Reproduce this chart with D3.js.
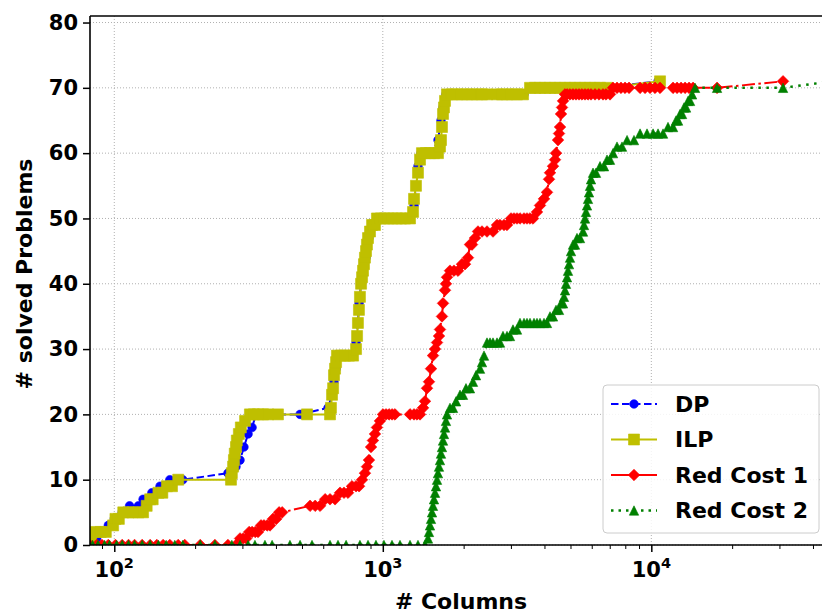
<!DOCTYPE html>
<html>
<head>
<meta charset="utf-8">
<script src="https://cdn.jsdelivr.net/npm/d3@7"></script>
<style>
  body { margin: 0; background: #fff; }
  text { font-family: "DejaVu Sans", sans-serif; font-weight: bold; fill: #000; }
</style>
</head>
<body>
<svg id="chart" width="822" height="615"></svg>
<script>
// Cumulative number of solved problems against the number of generated columns.
const dpColumns = [82, 86, 90, 95, 100, 107, 114, 123, 128, 138, 148, 161, 180, 265, 284, 294, 304, 315, 326, 337, 380, 492, 625, 647, 658, 670, 681, 755, 795, 808, 816, 830, 844, 866, 888, 912, 960, 1110, 1252, 1307, 1329, 1352, 1388, 1525, 1605, 1647, 1676, 1719, 2112, 2732, 3357, 3564, 4571, 6441, 10593];
const dpSolved  = [0, 1, 2, 3, 4, 5, 6, 6, 7, 8, 9, 10, 10, 11, 12, 13, 15, 17, 18, 20, 20, 20, 21, 23, 25, 27, 29, 29, 31, 34, 37, 40, 42, 44, 47, 49, 50, 50, 50, 52, 55, 58, 60, 60, 62, 65, 67, 69, 69, 69, 69, 70, 70, 70, 71];

const ilpColumns = [82, 85, 89, 93, 99, 101, 104, 108, 113, 117, 123, 128, 132, 136, 139, 146, 151, 157, 164, 173, 272, 274, 277, 279, 281, 284, 286, 291, 296, 307, 320, 331, 343, 358, 374, 407, 522, 636, 641, 647, 653, 658, 664, 670, 675, 699, 723, 748, 775, 795, 802, 808, 815, 822, 830, 837, 844, 851, 858, 866, 873, 881, 896, 912, 935, 951, 984, 1019, 1054, 1091, 1129, 1169, 1210, 1263, 1296, 1307, 1329, 1352, 1376, 1399, 1448, 1499, 1551, 1605, 1633, 1647, 1661, 1676, 1690, 1705, 1734, 1810, 1889, 1972, 2059, 2149, 2243, 2341, 2444, 2663, 2780, 2901, 3028, 3161, 3328, 3534, 3689, 3850, 4019, 4195, 4379, 4571, 4771, 4980, 5198, 5426, 5664, 5912, 6171, 6441, 6840, 10776];
const ilpSolved  = [1, 2, 2, 2, 3, 4, 4, 5, 5, 5, 5, 5, 6, 7, 7, 8, 8, 9, 9, 10, 10, 11, 12, 13, 14, 15, 16, 17, 18, 19, 20, 20, 20, 20, 20, 20, 20, 20, 21, 23, 24, 26, 27, 28, 29, 29, 29, 29, 29, 30, 32, 34, 36, 38, 40, 41, 42, 43, 44, 45, 46, 47, 48, 49, 49, 50, 50, 50, 50, 50, 50, 50, 50, 50, 51, 53, 55, 57, 59, 60, 60, 60, 60, 60, 61, 62, 64, 66, 67, 68, 69, 69, 69, 69, 69, 69, 69, 69, 69, 69, 69, 69, 69, 69, 69, 70, 70, 70, 70, 70, 70, 70, 70, 70, 70, 70, 70, 70, 70, 70, 70, 71];

const rc1Columns = [81, 86, 90, 95, 101, 107, 113, 119, 127, 136, 144, 152, 161, 173, 183, 209, 237, 265, 284, 294, 302, 310, 318, 326, 335, 343, 352, 361, 371, 380, 390, 401, 411, 422, 536, 560, 584, 610, 636, 664, 693, 717, 742, 768, 795, 816, 837, 858, 873, 888, 904, 919, 935, 951, 976, 1002, 1028, 1055, 1083, 1110, 1263, 1307, 1341, 1376, 1412, 1436, 1461, 1486, 1512, 1538, 1565, 1592, 1619, 1633, 1661, 1676, 1705, 1719, 1734, 1779, 1841, 1906, 1972, 2024, 2076, 2112, 2149, 2205, 2262, 2341, 2444, 2573, 2663, 2732, 2827, 2901, 3003, 3081, 3161, 3243, 3357, 3444, 3534, 3626, 3752, 3850, 3984, 4088, 4159, 4195, 4304, 4379, 4417, 4493, 4532, 4571, 4610, 4650, 4690, 4771, 4854, 4980, 5110, 5243, 5380, 5519, 5664, 5811, 5963, 6171, 6386, 6609, 6782, 7018, 7201, 7452, 7712, 7982, 8261, 9080, 9477, 9890, 10324, 10776, 12050, 12470, 12907, 13356, 13823, 14305, 17572, 30944];
const rc1Solved  = [0, 0, 0, 0, 0, 0, 0, 0, 0, 0, 0, 0, 0, 0, 0, 0, 0, 0, 0, 1, 1, 1, 2, 2, 2, 2, 3, 3, 3, 3, 4, 4, 5, 5, 6, 6, 6, 7, 7, 7, 8, 8, 8, 9, 9, 9, 10, 11, 12, 13, 15, 16, 17, 18, 19, 20, 20, 20, 20, 20, 20, 20, 20, 20, 21, 22, 24, 25, 27, 29, 30, 31, 32, 33, 35, 37, 39, 40, 41, 42, 42, 42, 43, 43, 44, 46, 46, 47, 48, 48, 48, 48, 49, 49, 49, 49, 50, 50, 50, 50, 50, 50, 50, 50, 51, 52, 53, 54, 56, 57, 58, 59, 60, 62, 63, 64, 66, 67, 68, 69, 69, 69, 69, 69, 69, 69, 69, 69, 69, 69, 69, 69, 69, 69, 70, 70, 70, 70, 70, 70, 70, 70, 70, 70, 70, 70, 70, 70, 70, 70, 70, 71];

const rc2Columns = [80, 83, 87, 92, 96, 102, 107, 113, 119, 127, 136, 146, 156, 168, 180, 209, 237, 274, 294, 315, 334, 364, 387, 451, 492, 545, 636, 681, 730, 822, 881, 943, 1010, 1082, 1159, 1263, 1352, 1436, 1473, 1486, 1499, 1512, 1525, 1538, 1551, 1565, 1578, 1592, 1605, 1619, 1633, 1647, 1661, 1676, 1690, 1705, 1719, 1734, 1779, 1826, 1874, 1939, 1989, 2041, 2112, 2167, 2224, 2302, 2341, 2382, 2444, 2508, 2573, 2663, 2732, 2803, 2901, 2977, 3054, 3161, 3243, 3357, 3444, 3534, 3657, 3752, 3850, 3984, 4088, 4195, 4304, 4417, 4532, 4610, 4690, 4730, 4771, 4812, 4854, 4895, 4938, 4980, 5023, 5110, 5198, 5288, 5426, 5567, 5615, 5664, 5712, 5762, 5811, 5861, 5912, 5963, 6066, 6224, 6441, 6666, 6840, 7018, 7201, 7452, 7779, 8122, 8620, 9080, 9639, 10153, 10593, 11057, 11541, 12050, 12361, 12579, 12797, 13018, 13240, 13472, 13703, 13940, 14183, 14553, 17572, 30944, 47107];
const rc2Solved  = [0, 0, 0, 0, 0, 0, 0, 0, 0, 0, 0, 0, 0, 0, 0, 0, 0, 0, 0, 0, 0, 0, 0, 0, 0, 0, 0, 0, 0, 0, 0, 0, 0, 0, 0, 0, 0, 0, 1, 2, 3, 4, 5, 6, 7, 8, 9, 10, 11, 12, 13, 14, 15, 16, 17, 18, 19, 20, 21, 21, 22, 23, 23, 24, 24, 25, 26, 27, 28, 29, 31, 31, 31, 31, 31, 32, 32, 32, 33, 33, 34, 34, 34, 34, 34, 34, 34, 34, 34, 35, 35, 36, 36, 37, 37, 38, 39, 40, 41, 42, 43, 44, 45, 46, 46, 47, 47, 48, 49, 50, 51, 52, 53, 54, 55, 56, 57, 57, 58, 58, 59, 59, 60, 61, 61, 62, 62, 63, 63, 63, 63, 63, 64, 64, 65, 65, 66, 66, 67, 67, 68, 68, 69, 70, 70, 70, 71];

const seriesNames = ["DP", "ILP", "Red Cost 1", "Red Cost 2"];
const yTicks = [0, 10, 20, 30, 40, 50, 60, 70, 80];
const xTicks = [100, 1000, 10000];
const xTickExponents = ["2", "3", "4"];
const xLabel = "# Columns";
const yLabel = "# solved Problems";

// Plot frame; the right side of the axes runs past the edge of the page.
const plot = { left: 90, top: 16, right: 839, bottom: 545 };

const x = d3.scaleLog().domain([81.2, 50000]).range([plot.left, plot.right]);
const y = d3.scaleLinear().domain([0, 81]).range([plot.bottom, plot.top]);

const markerPath = {
  circle: r => `M${r},0A${r},${r},0,1,1,${-r},0A${r},${r},0,1,1,${r},0Z`,
  square: r => `M${-r},${-r}H${r}V${r}H${-r}Z`,
  diamond: r => `M0,${-r}L${r},0L0,${r}L${-r},0Z`,
  triangle: r => `M0,${-r}L${r},${r}L${-r},${r}Z`
};

const series = [
  { name: seriesNames[0], xs: dpColumns,  ys: dpSolved,  color: "#0000ff", width: 2,   dash: "7.5,3.5",        legendDash: "7.5,3.5", marker: "circle",   size: 4.3 },
  { name: seriesNames[1], xs: ilpColumns, ys: ilpSolved, color: "#bfbf00", width: 2,   dash: null,             legendDash: null,      marker: "square",   size: 5.5 },
  { name: seriesNames[2], xs: rc1Columns, ys: rc1Solved, color: "#ff0000", width: 2,   dash: "13,3.5,2.5,3.5", legendDash: null,      marker: "diamond",  size: 5.8 },
  { name: seriesNames[3], xs: rc2Columns, ys: rc2Solved, color: "#008000", width: 2.5, dash: "2.5,5.5",        legendDash: "2.5,5",   marker: "triangle", size: 4.7 }
];

const svg = d3.select("#chart");

svg.append("defs").append("clipPath").attr("id", "plot-clip")
  .append("rect")
  .attr("x", plot.left).attr("y", plot.top)
  .attr("width", plot.right - plot.left).attr("height", plot.bottom - plot.top);

// Grid
const grid = svg.append("g").attr("stroke", "#b0b0b0").attr("stroke-width", 1).attr("stroke-dasharray", "1,2");
grid.selectAll(".gx").data(xTicks).join("line")
  .attr("x1", d => x(d)).attr("x2", d => x(d))
  .attr("y1", plot.top).attr("y2", plot.bottom);
grid.selectAll(".gy").data(yTicks).join("line")
  .attr("x1", plot.left).attr("x2", plot.right)
  .attr("y1", d => y(d)).attr("y2", d => y(d));

// Series
const area = svg.append("g").attr("clip-path", "url(#plot-clip)");
series.forEach(s => {
  const pts = s.xs.map((c, i) => [c, s.ys[i]]);
  area.append("path")
    .datum(pts)
    .attr("fill", "none")
    .attr("stroke", s.color)
    .attr("stroke-width", s.width)
    .attr("stroke-dasharray", s.dash)
    .attr("d", d3.line().x(d => x(d[0])).y(d => y(d[1])));
  area.append("g").selectAll("path").data(pts).join("path")
    .attr("transform", d => `translate(${x(d[0])},${y(d[1])})`)
    .attr("d", markerPath[s.marker](s.size))
    .attr("fill", s.color)
    .attr("stroke", s.color)
    .attr("stroke-width", 0.6);
});

// Axes
const minorTicks = [];
[100, 1000, 10000].forEach(b => { for (let k = 2; k <= 9; k++) minorTicks.push(b / 10 * k); });
for (let k = 2; k <= 4; k++) minorTicks.push(10000 * k);
const minorInRange = minorTicks.filter(v => v >= 81.2 && v <= 50000);

const xMinor = svg.append("g").attr("transform", `translate(0,${plot.bottom})`)
  .call(d3.axisBottom(x).tickValues(minorInRange).tickSize(4).tickFormat(""));
xMinor.select(".domain").remove();
xMinor.selectAll("line").attr("stroke", "#000").attr("stroke-width", 1);

const xMajor = svg.append("g").attr("transform", `translate(0,${plot.bottom})`)
  .call(d3.axisBottom(x).tickValues(xTicks).tickSize(7).tickFormat(""));
xMajor.select(".domain").remove();
xMajor.selectAll("line").attr("stroke", "#000").attr("stroke-width", 1.5);

const xLabels = svg.append("g");
xTicks.forEach((v, i) => {
  const t = xLabels.append("text")
    .attr("x", x(v)).attr("y", 577)
    .attr("text-anchor", "middle")
    .style("font-size", "21px");
  t.append("tspan").text("10");
  t.append("tspan").attr("dy", -9).style("font-size", "14.5px").text(xTickExponents[i]);
});

const yAxis = svg.append("g").attr("transform", `translate(${plot.left},0)`)
  .call(d3.axisLeft(y).tickValues(yTicks).tickSize(7).tickPadding(5));
yAxis.select(".domain").remove();
yAxis.selectAll("line").attr("stroke", "#000").attr("stroke-width", 1.5);
yAxis.selectAll("text")
  .attr("fill", "#000")
  .style("font-family", "DejaVu Sans, sans-serif")
  .style("font-weight", "bold")
  .style("font-size", "21px");

// Spines
const spines = svg.append("g").attr("stroke", "#000").attr("stroke-width", 1.6).attr("fill", "none");
spines.append("line").attr("x1", plot.left).attr("x2", plot.left).attr("y1", plot.top).attr("y2", plot.bottom);
spines.append("line").attr("x1", plot.left).attr("x2", plot.right).attr("y1", plot.bottom).attr("y2", plot.bottom);
spines.append("line").attr("x1", plot.left).attr("x2", plot.right).attr("y1", plot.top).attr("y2", plot.top);
spines.append("line").attr("x1", plot.right).attr("x2", plot.right).attr("y1", plot.top).attr("y2", plot.bottom);

// Axis titles
svg.append("text")
  .attr("x", 461).attr("y", 609)
  .attr("text-anchor", "middle")
  .style("font-size", "22px")
  .text(xLabel);
svg.append("text")
  .attr("transform", "translate(32,274) rotate(-90)")
  .attr("text-anchor", "middle")
  .style("font-size", "22px")
  .text(yLabel);

// Legend
const legend = svg.append("g");
legend.append("rect")
  .attr("x", 603).attr("y", 385).attr("width", 216).attr("height", 148)
  .attr("rx", 4).attr("ry", 4)
  .attr("fill", "#fff").attr("fill-opacity", 0.85)
  .attr("stroke", "#cccccc").attr("stroke-width", 1);
series.forEach((s, i) => {
  const ry = 404 + i * 35.5;
  const row = legend.append("g");
  row.append("line")
    .attr("x1", 611).attr("x2", 657).attr("y1", ry).attr("y2", ry)
    .attr("stroke", s.color).attr("stroke-width", s.width)
    .attr("stroke-dasharray", s.legendDash);
  row.append("path")
    .attr("transform", `translate(634,${ry})`)
    .attr("d", markerPath[s.marker](s.size))
    .attr("fill", s.color).attr("stroke", s.color).attr("stroke-width", 0.6);
  row.append("text")
    .attr("x", 675).attr("y", ry).attr("dy", "0.36em")
    .style("font-size", "22px")
    .text(s.name);
});
</script>
</body>
</html>
